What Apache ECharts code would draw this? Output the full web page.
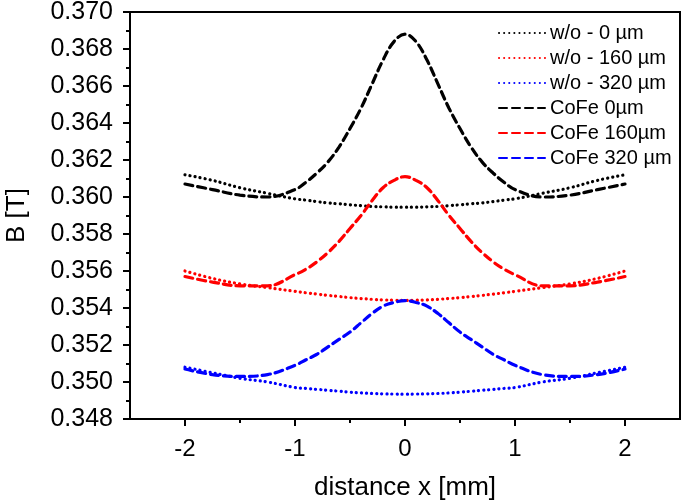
<!DOCTYPE html>
<html>
<head>
<meta charset="utf-8">
<script src="https://cdn.jsdelivr.net/npm/echarts@6/dist/echarts.min.js"></script>
<style>
  html, body { margin: 0; padding: 0; background: #fff; }
  #chart { width: 685px; height: 501px; }
</style>
</head>
<body>
<div id="chart"></div>
<script>
// distance x [mm]
var xPos = [-2, -1.75, -1.5, -1.25, -1, -0.9, -0.8, -0.7, -0.6, -0.5, -0.4, -0.3, -0.2, -0.1, 0,
            0.1, 0.2, 0.3, 0.4, 0.5, 0.6, 0.7, 0.8, 0.9, 1, 1.25, 1.5, 1.75, 2];

// without CoFe (dotted)
var wo0 = [0.3612, 0.3609, 0.3605, 0.3602, 0.3599, 0.35983, 0.35975, 0.35968, 0.35963, 0.35958, 0.35953, 0.35949, 0.35947, 0.35945, 0.35945,
           0.35945, 0.35947, 0.35949, 0.35953, 0.35958, 0.35963, 0.35968, 0.35975, 0.35983, 0.3599, 0.3602, 0.3605, 0.3609, 0.3612];
var wo160 = [0.3560, 0.3556, 0.3553, 0.3551, 0.3549, 0.35482, 0.35475, 0.35468, 0.35462, 0.35456, 0.35451, 0.35447, 0.35444, 0.35442, 0.35441,
             0.35442, 0.35444, 0.35447, 0.35451, 0.35456, 0.35462, 0.35468, 0.35475, 0.35482, 0.3549, 0.3551, 0.3553, 0.3556, 0.3560];
var wo320 = [0.3508, 0.3505, 0.3502, 0.3500, 0.3497, 0.34965, 0.3496, 0.34955, 0.3495, 0.34945, 0.34941, 0.34938, 0.34936, 0.34935, 0.34934,
             0.34935, 0.34936, 0.34938, 0.34941, 0.34945, 0.3495, 0.34955, 0.3496, 0.34965, 0.3497, 0.3500, 0.3502, 0.3505, 0.3508];

// with CoFe (dashed)
var cofe0 = [0.3607, 0.3604, 0.3601, 0.3600, 0.3604, 0.3608, 0.3613, 0.3619, 0.3627, 0.3637, 0.3648, 0.3661, 0.3674, 0.3684, 0.3688,
             0.3684, 0.3674, 0.3661, 0.3648, 0.3637, 0.3627, 0.3619, 0.3613, 0.3608, 0.3604, 0.3600, 0.3601, 0.3604, 0.3607];
var cofe160 = [0.3557, 0.3554, 0.3552, 0.3552, 0.3558, 0.3561, 0.3565, 0.3570, 0.3576, 0.3583, 0.3590, 0.3598, 0.3605, 0.3609, 0.3611,
               0.3609, 0.3605, 0.3598, 0.3590, 0.3583, 0.3576, 0.3570, 0.3565, 0.3561, 0.3558, 0.3552, 0.3552, 0.3554, 0.3557];
var cofe320 = [0.3507, 0.3504, 0.3503, 0.3504, 0.3509, 0.3512, 0.3515, 0.3519, 0.3523, 0.3527, 0.3532, 0.3537, 0.3541, 0.3543, 0.3544,
               0.3543, 0.3541, 0.3537, 0.3532, 0.3527, 0.3523, 0.3519, 0.3515, 0.3512, 0.3509, 0.3504, 0.3503, 0.3504, 0.3507];

var names = ['w/o - 0 µm', 'w/o - 160 µm', 'w/o - 320 µm', 'CoFe 0µm', 'CoFe 160µm', 'CoFe 320 µm'];
var colors = ['#000000', '#ff0000', '#0000ff', '#000000', '#ff0000', '#0000ff'];
var values = [wo0, wo160, wo320, cofe0, cofe160, cofe320];

var majorX = [-2, -1, 0, 1, 2];
var minorX = [-1.5, -0.5, 0.5, 1.5];

var font = 'Arial, "Liberation Sans", sans-serif';
var chart = echarts.init(document.getElementById('chart'));

function pairs(ys) {
  var out = [];
  for (var i = 0; i < xPos.length; i++) out.push([xPos[i], ys[i]]);
  return out;
}

var series = [];
for (var i = 0; i < names.length; i++) {
  var dotted = i < 3;
  series.push({
    name: names[i],
    type: 'line',
    data: pairs(values[i]),
    smooth: 0.4,
    showSymbol: false,
    symbol: 'none',
    color: colors[i],
    lineStyle: {
      color: colors[i],
      width: 3.2,
      type: dotted ? [0.1, 5] : [8, 5],
      cap: 'round'
    }
  });
}

var option = {
  animation: false,
  grid: {
    left: 130,
    right: 5,
    top: 12,
    bottom: 82,
    outerBoundsMode: 'none',
    show: true,
    borderColor: '#000',
    borderWidth: 2
  },
  legend: {
    orient: 'vertical',
    left: 493,
    top: 18,
    itemWidth: 46,
    itemHeight: 14,
    itemGap: 5,
    itemStyle: { opacity: 0 },
    textStyle: { fontSize: 20, color: '#000', fontFamily: font },
    data: names
  },
  xAxis: [{
    type: 'value',
    min: -2.5,
    max: 2.5,
    name: 'distance x [mm]',
    nameLocation: 'middle',
    nameGap: 56,
    nameTextStyle: { fontSize: 26, color: '#000', fontFamily: font },
    splitLine: { show: false },
    axisLine: { onZero: false, lineStyle: { color: '#000', width: 2 } },
    axisTick: { customValues: majorX, length: 7, lineStyle: { color: '#000', width: 2 } },
    axisLabel: { customValues: majorX, margin: 18, fontSize: 24, color: '#000', fontFamily: font }
  }, {
    type: 'value',
    position: 'bottom',
    min: -2.5,
    max: 2.5,
    splitLine: { show: false },
    axisLine: { show: false, onZero: false },
    axisTick: { customValues: minorX, length: 4, lineStyle: { color: '#000', width: 2 } },
    axisLabel: { show: false }
  }],
  yAxis: {
    type: 'value',
    min: 0.348,
    max: 0.370,
    interval: 0.002,
    name: 'B [T]',
    nameLocation: 'middle',
    nameGap: 100,
    nameTextStyle: { fontSize: 26, color: '#000', fontFamily: font },
    splitLine: { show: false },
    axisLine: { onZero: false, lineStyle: { color: '#000', width: 2 } },
    axisTick: { length: 7, lineStyle: { color: '#000', width: 2 } },
    minorTick: { show: true, splitNumber: 2, length: 4, lineStyle: { color: '#000', width: 2 } },
    axisLabel: {
      margin: 17,
      fontSize: 25,
      color: '#000',
      fontFamily: font,
      formatter: function (v) { return v.toFixed(3); }
    }
  },
  series: series
};

chart.setOption(option);
window.addEventListener('resize', function () { chart.resize(); });
</script>
</body>
</html>
